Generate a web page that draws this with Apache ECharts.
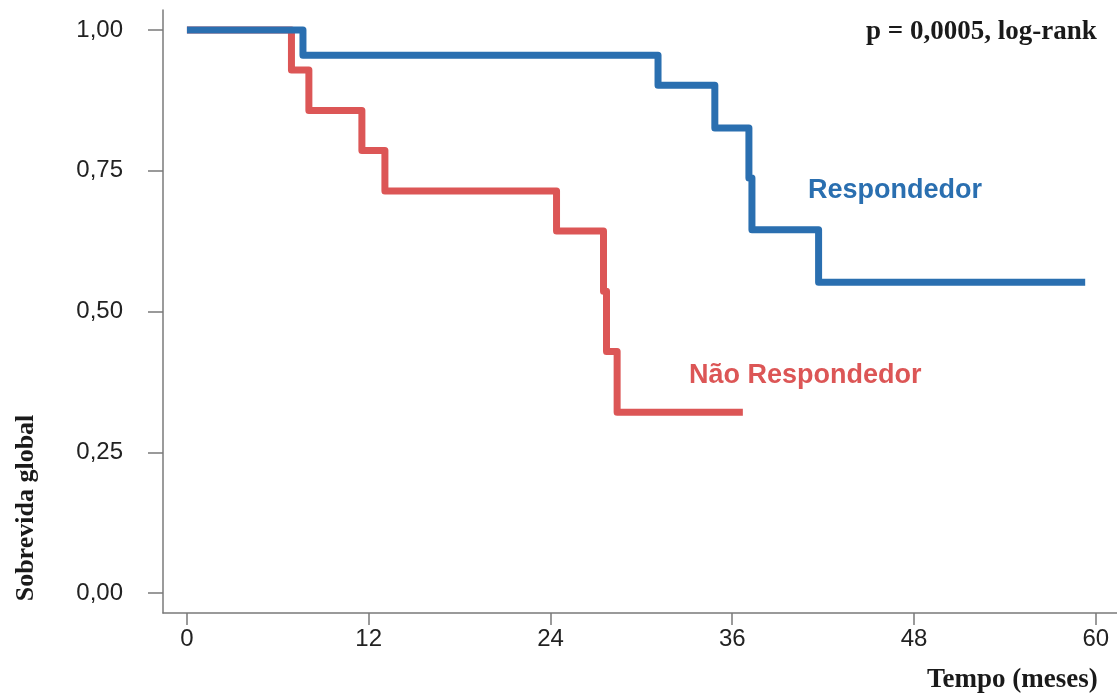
<!DOCTYPE html>
<html>
<head>
<meta charset="utf-8">
<script src="https://cdn.jsdelivr.net/npm/echarts@6/dist/echarts.min.js"></script>
<style>
  html, body { margin: 0; padding: 0; background: #ffffff; }
  #chart { width: 1117px; height: 699px; }
</style>
</head>
<body>
<div id="chart"></div>
<script>
// Kaplan–Meier overall survival by response group (time in months)
const respTimes = [0, 7.66, 31.1, 34.85, 37.1, 37.3, 41.7, 59.3];
const respSurv  = [1.0, 0.955, 0.902, 0.826, 0.737, 0.645, 0.552, 0.552];

const nonRespTimes = [0, 6.9, 8.05, 11.55, 13.07, 24.4, 27.5, 27.7, 28.4, 36.7];
const nonRespSurv  = [1.0, 0.929, 0.857, 0.786, 0.714, 0.643, 0.536, 0.429, 0.321, 0.321];

const xTicks = [0, 12, 24, 36, 48, 60];
const yTicks = [0, 0.25, 0.5, 0.75, 1];

const respLabel = 'Respondedor';
const nonRespLabel = 'Não Respondedor';
const pValueText = 'p = 0,0005, log-rank';
const xTitle = 'Tempo (meses)';
const yTitle = 'Sobrevida global';

const blue = '#2a6fb0';
const red = '#dc5656';
const axisGrey = '#7a7a7a';
const sans = '"Liberation Sans", Arial, sans-serif';
const serif = '"Liberation Serif", "Times New Roman", serif';

const pairs = (xs, ys) => xs.map((x, i) => [x, ys[i]]);

const chart = echarts.init(document.getElementById('chart'), null, { renderer: 'canvas' });

chart.setOption({
  backgroundColor: '#ffffff',
  animation: false,
  grid: { left: 163, right: 0, top: 10, bottom: 86, containLabel: false },
  xAxis: {
    type: 'value',
    min: -1.58,
    max: 61.4,
    axisLine: { show: true, onZero: false, lineStyle: { color: axisGrey, width: 1.5 } },
    axisTick: { show: true, length: 12, customValues: xTicks, lineStyle: { color: axisGrey, width: 1.5 } },
    axisLabel: {
      customValues: xTicks,
      margin: 14,
      color: '#222',
      fontFamily: sans,
      fontSize: 24
    },
    splitLine: { show: false }
  },
  yAxis: {
    type: 'value',
    min: -0.0355,
    max: 1.0355,
    axisLine: { show: true, onZero: false, lineStyle: { color: axisGrey, width: 1.5 } },
    axisTick: { show: true, length: 15, customValues: yTicks, lineStyle: { color: axisGrey, width: 1.5 } },
    axisLabel: {
      customValues: yTicks,
      margin: 40,
      color: '#222',
      fontFamily: sans,
      fontSize: 24,
      formatter: v => v.toFixed(2).replace('.', ',')
    },
    splitLine: { show: false }
  },
  series: [
    {
      name: nonRespLabel,
      type: 'line',
      step: 'end',
      symbol: 'none',
      data: pairs(nonRespTimes, nonRespSurv),
      lineStyle: { color: red, width: 7, cap: 'butt', join: 'round' },
      z: 2
    },
    {
      name: respLabel,
      type: 'line',
      step: 'end',
      symbol: 'none',
      data: pairs(respTimes, respSurv),
      lineStyle: { color: blue, width: 7, cap: 'butt', join: 'round' },
      z: 3
    }
  ],
  graphic: [
    {
      type: 'text', left: 866, top: 19,
      style: { text: pValueText, fill: '#1a1a1a', font: 'bold 27px ' + serif }
    },
    {
      type: 'text', left: 808, top: 177,
      style: { text: respLabel, fill: blue, font: 'bold 27px ' + sans }
    },
    {
      type: 'text', left: 689, top: 362,
      style: { text: nonRespLabel, fill: red, font: 'bold 27px ' + sans }
    },
    {
      type: 'text', left: 927, top: 667,
      style: { text: xTitle, fill: '#1a1a1a', font: 'bold 27px ' + serif }
    },
    {
      type: 'text', x: 26, y: 508, rotation: Math.PI / 2,
      style: { text: yTitle, fill: '#1a1a1a', font: 'bold 26px ' + serif, align: 'center', verticalAlign: 'middle' }
    }
  ]
});
</script>
</body>
</html>
